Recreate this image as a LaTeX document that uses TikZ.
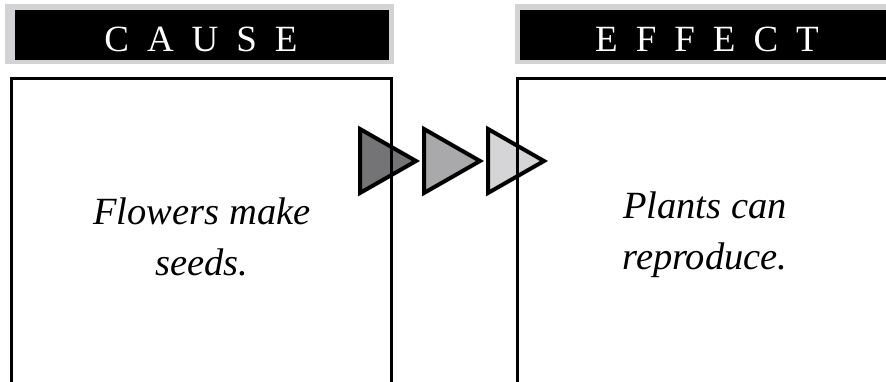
\documentclass[tikz,border=0pt]{standalone}
\usepackage{fontspec}
\setmainfont{Liberation Serif}
\definecolor{framegray}{HTML}{D3D3D5}
\definecolor{tridark}{HTML}{747476}
\definecolor{trimid}{HTML}{A9A9AB}
\definecolor{trilight}{HTML}{D5D5D7}
\newcommand\widespaced{\spaceskip=18pt plus 0pt minus 0pt\relax}
\begin{document}
\begin{tikzpicture}[x=1pt,y=-1pt,
  headtext/.style={text=white, anchor=base, inner sep=0pt,
    font=\fontsize{37}{37}\selectfont},
  bodytext/.style={align=center, inner sep=0pt,
    font=\fontsize{38.5}{51}\selectfont\itshape},
  tri/.style={draw=black, line width=4pt, line join=miter},
  box/.style={draw=black, line width=2.6pt}]
\useasboundingbox (0,0) rectangle (886,382);
% headers
\fill[framegray] (5,4) rectangle (394,64);
\fill[black] (15,10) rectangle (389,60);
\node[headtext] (cause) at (201,52) {\widespaced C A U S E};
\fill[framegray] (515,4) rectangle (886,64);
\fill[black] (520,10) rectangle (886,60);
\node[headtext] (effect) at (707,52) {\widespaced E F F E C T};
% triangles
\path[tri, fill=tridark] (360,129) -- (360,193) -- (416,161) -- cycle;
\path[tri, fill=trimid] (424,129) -- (424,193) -- (480,161) -- cycle;
\path[tri, fill=trilight] (488,129) -- (488,193) -- (544,161) -- cycle;
% boxes
\draw[box] (11.5,383) -- (11.5,78.5) -- (391.5,78.5) -- (391.5,383);
\draw[box] (517.5,383) -- (517.5,78.5) -- (887,78.5);
% texts
\node[bodytext] (causetext) at (202,237) {Flowers make\\seeds.};
\node[bodytext] (effecttext) at (705,235) {Plants can\\reproduce.};
\end{tikzpicture}
\end{document}
